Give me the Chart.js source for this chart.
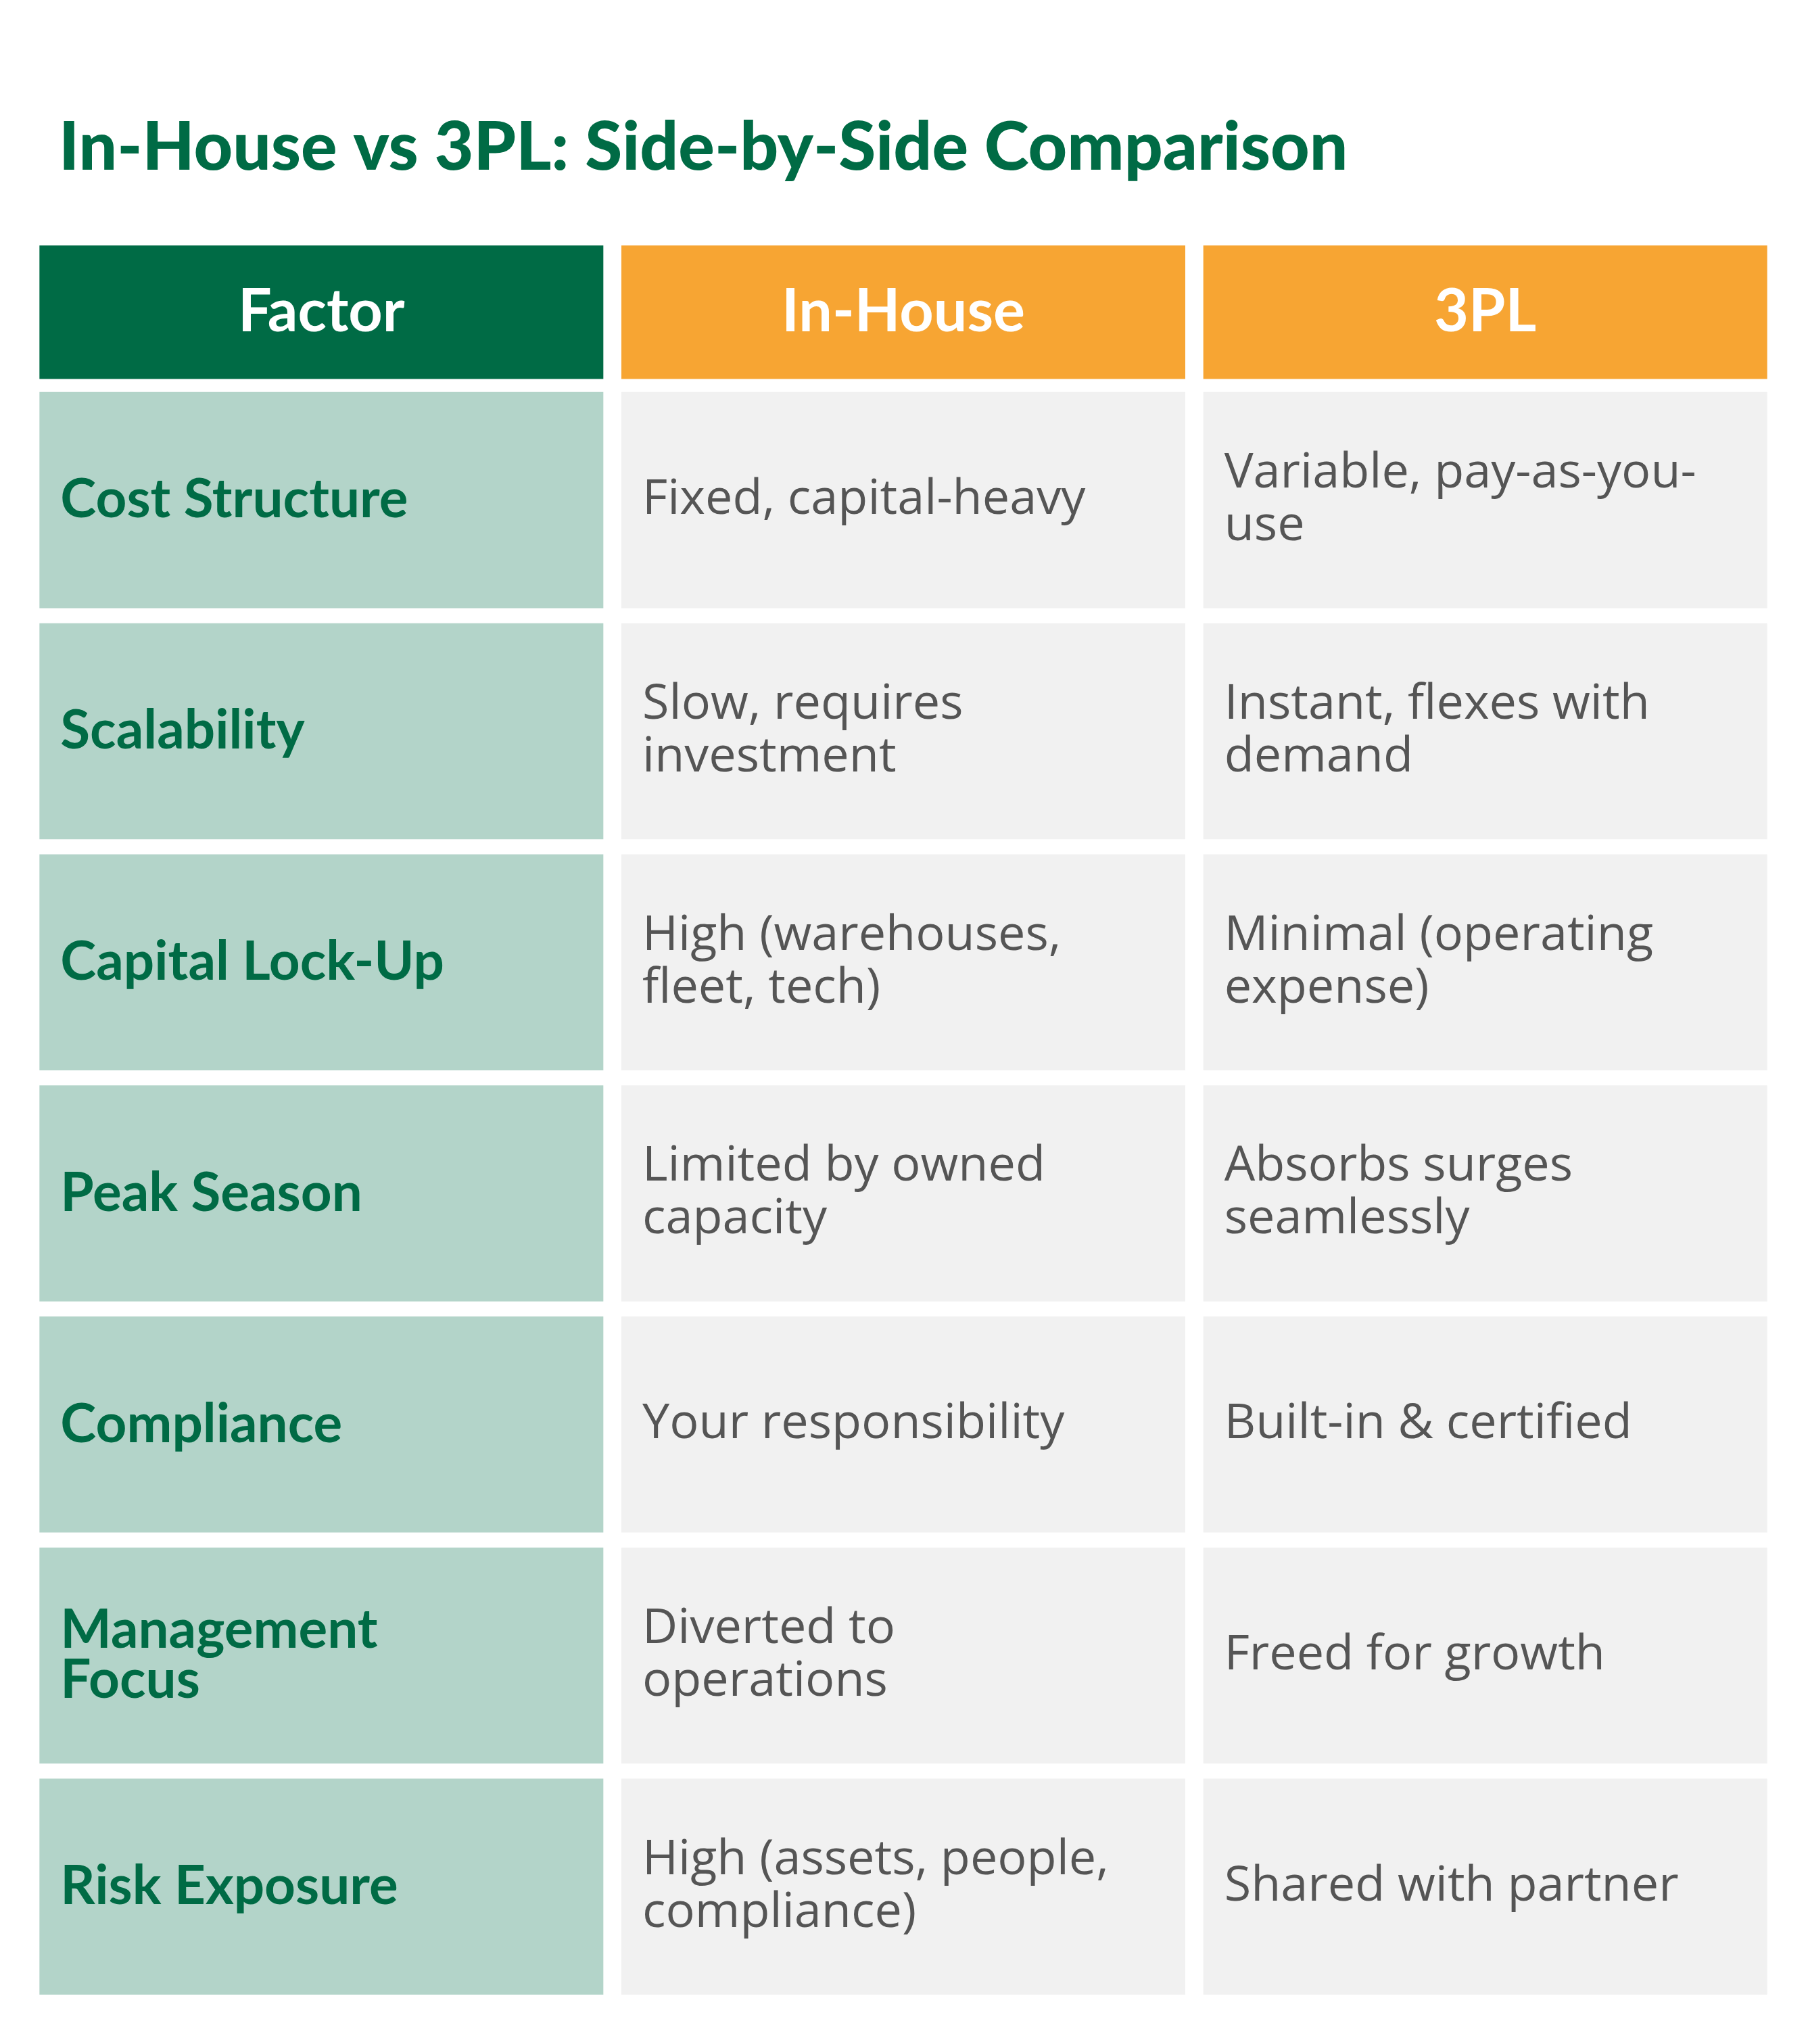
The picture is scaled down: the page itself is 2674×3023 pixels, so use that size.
<!DOCTYPE html>
<html>
<head>
<meta charset="utf-8">
<script src="https://cdn.jsdelivr.net/npm/chart.js@4/dist/chart.umd.min.js"></script>
<style>
  html, body { margin: 0; padding: 0; background: #fff; }
  canvas { display: block; }
</style>
</head>
<body>
<canvas id="table" width="2674" height="3023"></canvas>
<script>
(function() {
    'use strict';

    const title = 'In-House vs 3PL: Side-by-Side Comparison';
    const headers = ['Factor', 'In-House', '3PL'];
    const factors = ['Cost Structure', 'Scalability', 'Capital Lock-Up', 'Peak Season', 'Compliance', 'Management\nFocus', 'Risk Exposure'];
    const inHouse = ['Fixed, capital-heavy', 'Slow, requires\ninvestment', 'High (warehouses,\nfleet, tech)', 'Limited by owned\ncapacity', 'Your responsibility', 'Diverted to\noperations', 'High (assets, people,\ncompliance)'];
    const thirdParty = ['Variable, pay-as-you-\nuse', 'Instant, flexes with\ndemand', 'Minimal (operating\nexpense)', 'Absorbs surges\nseamlessly', 'Built-in & certified', 'Freed for growth', 'Shared with partner'];

    const GREEN = '#006B45', ORANGE = '#F7A533', MINT = '#B3D4C9', GREY = '#F1F1F1';

    // row bands in table units (header short, body rows taller)
    const HEADER_H = 102, ROW_H = 165, GAP = 11.5;
    const rowTop = i => HEADER_H + 10 + i * (ROW_H + GAP);

    const rows = [headers].concat(factors.map((f, i) => [f, inHouse[i], thirdParty[i]]));

    const datasets = rows.map((cells, r) => {
        const span = r === 0 ? [0, HEADER_H] : [rowTop(r - 1), rowTop(r - 1) + ROW_H];
        return {
            label: r === 0 ? 'header' : factors[r - 1],
            data: cells.map(() => span),
            texts: cells,
            backgroundColor: r === 0 ? [GREEN, ORANGE, ORANGE] : [MINT, GREY, GREY],
            borderWidth: 0
        };
    });

    const textPlugin = {
        id: 'cellText',
        afterDatasetsDraw(chart) {
            const ctx = chart.ctx;
            ctx.save();
            ctx.fillStyle = GREEN;
            ctx.font = '900 100px Lato';
            ctx.textBaseline = 'alphabetic';
            ctx.textAlign = 'left';
            ctx.fillText(title, 87, 251);

            chart.data.datasets.forEach((ds, r) => {
                const meta = chart.getDatasetMeta(r);
                meta.data.forEach((el, c) => {
                    const left = el.x - el.width / 2;
                    const mid = (el.y + el.base) / 2;
                    const lines = ds.texts[c].split('\n');
                    if (r === 0) {
                        ctx.fillStyle = '#fff';
                        ctx.font = 'bold 88px Lato';
                        ctx.textAlign = 'center';
                    } else if (c === 0) {
                        ctx.fillStyle = GREEN;
                        ctx.font = 'bold 80px Lato';
                        ctx.textAlign = 'left';
                    } else {
                        ctx.fillStyle = '#555';
                        ctx.font = '72px "Open Sans"';
                        ctx.textAlign = 'left';
                    }
                    ctx.textBaseline = 'middle';
                    const lh = c === 0 && r > 0 ? 74 : 78;
                    const x = r === 0 ? el.x : left + 31;
                    lines.forEach((ln, k) => {
                        ctx.fillText(ln, x, mid + (k - (lines.length - 1) / 2) * lh);
                    });
                });
            });
            ctx.restore();
        }
    };

    new Chart(document.getElementById('table'), {
        type: 'bar',
        data: { labels: headers, datasets },
        options: {
            responsive: false,
            devicePixelRatio: 1,
            animation: false,
            datasets: { bar: { grouped: false, barPercentage: 1, categoryPercentage: 0.969 } },
            layout: { padding: { left: 45, right: 47, top: 363, bottom: 73 } },
            plugins: { legend: { display: false }, tooltip: { enabled: false } },
            scales: {
                x: { display: false, grid: { display: false } },
                y: { display: false, reverse: true, min: 0, max: rowTop(6) + ROW_H }
            }
        },
        plugins: [textPlugin]
    });
})();
</script>
</body>
</html>
